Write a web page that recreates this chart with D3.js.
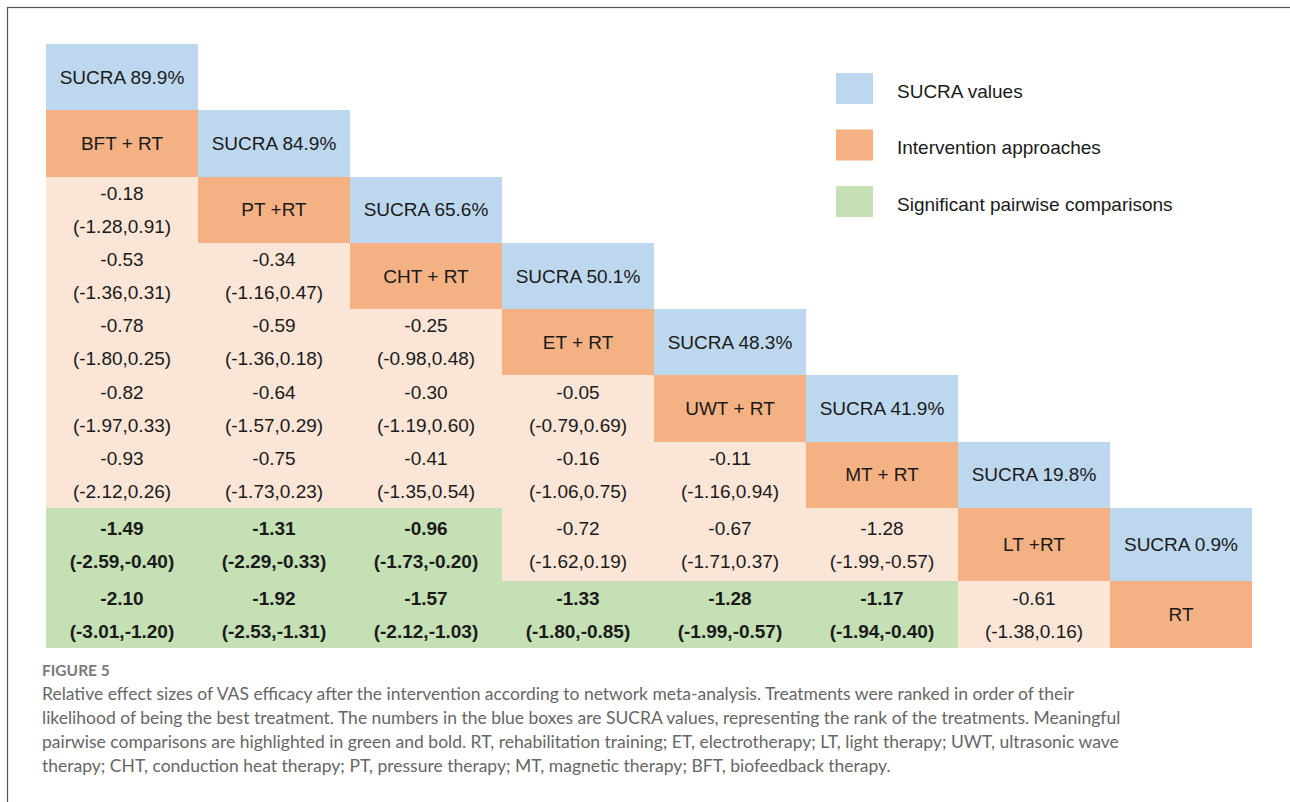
<!DOCTYPE html>
<html>
<head>
<meta charset="utf-8">
<script src="https://cdn.jsdelivr.net/npm/d3@7"></script>
<style>
  body { margin: 0; background: #fff; }
  svg { display: block; }
</style>
</head>
<body>
<svg width="1290" height="802"></svg>
<script>
// treatments in ranking order (diagonal)
const treatments = ["BFT + RT", "PT +RT", "CHT + RT", "ET + RT", "UWT + RT", "MT + RT", "LT +RT", "RT"];
const sucra = [89.9, 84.9, 65.6, 50.1, 48.3, 41.9, 19.8, 0.9];

// lower triangle, one array per row (row of treatment 1..7), columns = treatment 0..
const effects = [
  [-0.18],
  [-0.53, -0.34],
  [-0.78, -0.59, -0.25],
  [-0.82, -0.64, -0.30, -0.05],
  [-0.93, -0.75, -0.41, -0.16, -0.11],
  [-1.49, -1.31, -0.96, -0.72, -0.67, -1.28],
  [-2.10, -1.92, -1.57, -1.33, -1.28, -1.17, -0.61]
];
const lower = [
  [-1.28],
  [-1.36, -1.16],
  [-1.80, -1.36, -0.98],
  [-1.97, -1.57, -1.19, -0.79],
  [-2.12, -1.73, -1.35, -1.06, -1.16],
  [-2.59, -2.29, -1.73, -1.62, -1.71, -1.99],
  [-3.01, -2.53, -2.12, -1.80, -1.99, -1.94, -1.38]
];
const upper = [
  [0.91],
  [0.31, 0.47],
  [0.25, 0.18, 0.48],
  [0.33, 0.29, 0.60, 0.69],
  [0.26, 0.23, 0.54, 0.75, 0.94],
  [-0.40, -0.33, -0.20, 0.19, 0.37, -0.57],
  [-1.20, -1.31, -1.03, -0.85, -0.57, -0.40, 0.16]
];
const significant = [
  [false],
  [false, false],
  [false, false, false],
  [false, false, false, false],
  [false, false, false, false, false],
  [true, true, true, false, false, false],
  [true, true, true, true, true, true, false]
];

const legendLabels = ["SUCRA values", "Intervention approaches", "Significant pairwise comparisons"];

const captionTitle = "FIGURE 5";
const captionLines = [
  "Relative effect sizes of VAS efficacy after the intervention according to network meta-analysis. Treatments were ranked in order of their",
  "likelihood of being the best treatment. The numbers in the blue boxes are SUCRA values, representing the rank of the treatments. Meaningful",
  "pairwise comparisons are highlighted in green and bold. RT, rehabilitation training; ET, electrotherapy; LT, light therapy; UWT, ultrasonic wave",
  "therapy; CHT, conduction heat therapy; PT, pressure therapy; MT, magnetic therapy; BFT, biofeedback therapy."
];

const colors = { sucra: "#bdd7ee", treat: "#f4b183", plain: "#fbe5d6", sig: "#c5e0b4" };
const font = "'Liberation Sans', Arial, Helvetica, sans-serif";

const svg = d3.select("svg");

// frame
svg.append("rect")
  .attr("x", 7.5).attr("y", 7.5)
  .attr("width", 1300).attr("height", 900)
  .attr("fill", "none").attr("stroke", "#555").attr("stroke-width", 1.2);

// grid scales (last column narrower, row 7 a bit taller, as in the figure)
const x = d3.scaleLinear().domain([0, 7, 8]).range([46, 1110, 1252]);
const y = d3.scaleLinear().domain([0, 7, 8, 9]).range([44, 508, 581, 648]);

// build cell list
const cells = [];
treatments.forEach((t, k) => {
  cells.push({ row: k, col: k, type: "sucra", lines: [`SUCRA ${sucra[k].toFixed(1)}%`] });
  cells.push({ row: k + 1, col: k, type: "treat", lines: [t] });
});
effects.forEach((rowVals, i) => {
  rowVals.forEach((v, c) => {
    const sig = significant[i][c];
    cells.push({
      row: i + 2, col: c, type: sig ? "sig" : "plain", bold: sig,
      lines: [v.toFixed(2), `(${lower[i][c].toFixed(2)},${upper[i][c].toFixed(2)})`]
    });
  });
});

const g = svg.append("g");

const cell = g.selectAll("g.cell")
  .data(cells)
  .enter()
  .append("g")
  .attr("class", "cell");

cell.append("rect")
  .attr("x", d => x(d.col))
  .attr("y", d => y(d.row))
  .attr("width", d => x(d.col + 1) - x(d.col))
  .attr("height", d => y(d.row + 1) - y(d.row))
  .attr("fill", d => colors[d.type])
  .attr("shape-rendering", "crispEdges");

cell.each(function(d) {
  const cx = (x(d.col) + x(d.col + 1)) / 2;
  const cy = (y(d.row) + y(d.row + 1)) / 2;
  const n = d.lines.length;
  d3.select(this).selectAll("text")
    .data(d.lines)
    .enter()
    .append("text")
    .attr("x", cx)
    .attr("y", (l, i) => cy + (i - (n - 1) / 2) * 33)
    .attr("text-anchor", "middle")
    .attr("dominant-baseline", "central")
    .attr("font-family", font)
    .attr("font-size", 19)
    .attr("font-weight", d.bold ? "bold" : "normal")
    .attr("fill", "#1a1a1a")
    .text(l => l);
});

// legend
const legendY = d3.scalePoint().domain(legendLabels).range([88, 201]);
const legendFill = [colors.sucra, colors.treat, colors.sig];

const legend = svg.append("g").selectAll("g")
  .data(legendLabels)
  .enter()
  .append("g");

legend.append("rect")
  .attr("x", 836)
  .attr("y", d => legendY(d) - 15)
  .attr("width", 37).attr("height", 31)
  .attr("fill", (d, i) => legendFill[i]);

legend.append("text")
  .attr("x", 897)
  .attr("y", d => legendY(d) + 3)
  .attr("dominant-baseline", "central")
  .attr("font-family", font)
  .attr("font-size", 19)
  .attr("fill", "#1a1a1a")
  .text(d => d);

// caption
svg.append("text")
  .attr("x", 42).attr("y", 676)
  .attr("font-family", "Lato, 'Open Sans', sans-serif")
  .attr("font-size", 15.5)
  .attr("font-weight", "bold")
  .attr("fill", "#7a7a7a")
  .text(captionTitle);

svg.append("g").selectAll("text")
  .data(captionLines)
  .enter()
  .append("text")
  .attr("x", 42)
  .attr("y", (d, i) => 700 + i * 24)
  .attr("font-family", "Lato, 'Open Sans', sans-serif")
  .attr("font-size", 17.5)
  .attr("fill", "#666")
  .text(d => d);
</script>
</body>
</html>
